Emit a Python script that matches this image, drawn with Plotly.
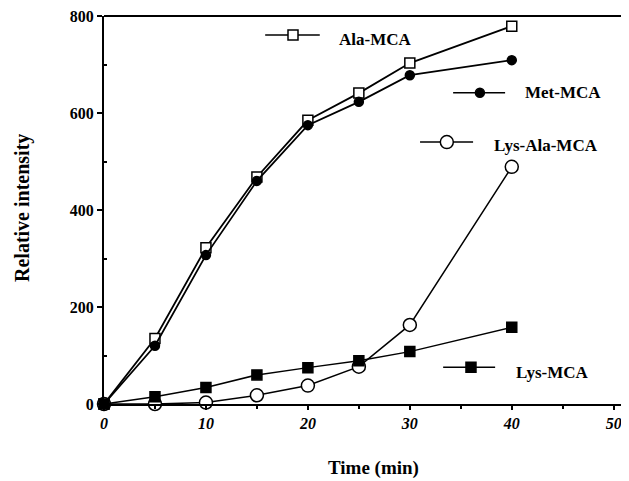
import plotly.graph_objects as go

time = [0, 5, 10, 15, 20, 25, 30, 40]
ala_mca = [0, 135, 322, 468, 585, 641, 703, 779]
met_mca = [0, 120, 307, 460, 575, 623, 678, 709]
lys_ala_mca = [0, 0, 3, 18, 38, 77, 163, 489]
lys_mca = [0, 15, 34, 60, 75, 89, 108, 158]
x_ticks = [0, 10, 20, 30, 40, 50]
y_ticks = [0, 200, 400, 600, 800]

# name, values, symbol, fill, size, line width
series = [
    ("Ala-MCA", ala_mca, "square", "white", 10, 1.8),
    ("Met-MCA", met_mca, "circle", "black", 9, 1.8),
    ("Lys-Ala-MCA", lys_ala_mca, "circle", "white", 13, 1.5),
    ("Lys-MCA", lys_mca, "square", "black", 10, 1.5),
]

# inline legend glyph positions (fractions of plot area)
legend_pos = {
    "Ala-MCA": (0.307, 0.411, 0.36, 0.951, 0.444, 0.940),
    "Met-MCA": (0.665, 0.764, 0.716, 0.802, 0.798, 0.802),
    "Lys-Ala-MCA": (0.602, 0.703, 0.653, 0.675, 0.739, 0.665),
    "Lys-MCA": (0.646, 0.745, 0.699, 0.095, 0.781, 0.082),
}

fig = go.Figure()
font_family = "Liberation Serif"

for name, vals, sym, fill, size, lw in series:
    fig.add_trace(go.Scatter(
        x=time, y=vals, mode="lines+markers", name=name,
        line=dict(color="black", width=lw),
        marker=dict(symbol=sym, size=size, color=fill,
                    line=dict(color="black", width=1.5)),
        cliponaxis=False, showlegend=False,
    ))
    x0, x1, xm, yl, xt, yt = legend_pos[name]
    fig.add_trace(go.Scatter(
        x=[x0, x1], y=[yl, yl], mode="lines", xaxis="x2", yaxis="y2",
        line=dict(color="black", width=1.5), showlegend=False, hoverinfo="skip",
    ))
    fig.add_trace(go.Scatter(
        x=[xm], y=[yl], mode="markers", xaxis="x2", yaxis="y2",
        marker=dict(symbol=sym, size=size, color=fill,
                    line=dict(color="black", width=1.5)),
        showlegend=False, hoverinfo="skip",
    ))
    fig.add_annotation(x=xt, y=yt, xref="x2", yref="y2", text=f"<b>{name}</b>",
                       showarrow=False, xanchor="left", yanchor="middle",
                       font=dict(family=font_family, size=17, color="black"))

# page body has an 8px default margin, so the figure is sized to the visible area
fig.update_layout(
    width=621, height=473,
    margin=dict(l=96, r=0, t=8, b=77, autoexpand=False),
    paper_bgcolor="white", plot_bgcolor="white",
    font=dict(family=font_family, color="black"),
    xaxis=dict(range=[0, 51.5], tickvals=x_ticks, automargin=False,
               ticklabeloverflow="allow",
               ticktext=[f"<b><i>{v}</i></b>" for v in x_ticks],
               ticks="outside", ticklen=4, tickwidth=1.5, tickcolor="black",
               minor=dict(tickvals=[5, 15, 25, 35, 45], ticks="outside", ticklen=3, tickcolor="black"),
               showline=True, linecolor="black", linewidth=2, mirror=False,
               showgrid=False, zeroline=False,
               tickfont=dict(size=16, family=font_family)),
    yaxis=dict(range=[0, 800], tickvals=y_ticks, automargin=False,
               ticklabeloverflow="allow",
               ticktext=[f"<b>{v}</b>" for v in y_ticks],
               ticks="outside", ticklen=5, tickwidth=1.5, tickcolor="black",
               minor=dict(tickvals=[100, 300, 500, 700], ticks="inside", ticklen=3, tickcolor="black"),
               showline=True, linecolor="black", linewidth=2,
               showgrid=False, zeroline=False,
               tickfont=dict(size=16, family=font_family)),
    xaxis2=dict(range=[0, 1], overlaying="x", visible=False, fixedrange=True),
    yaxis2=dict(range=[0, 1], overlaying="y", visible=False, fixedrange=True),
    shapes=[dict(type="line", xref="paper", yref="paper", x0=0, x1=1, y0=1, y1=1,
                 line=dict(color="black", width=2))],
)

fig.add_annotation(x=0.5, y=0, xref="paper", yref="paper", yshift=-64,
                   xshift=(373 - (104 + 629) / 2), xanchor="center", yanchor="middle",
                   text="<b>Time (min)</b>", showarrow=False, borderpad=0,
                   font=dict(family=font_family, size=19, color="black"))
fig.add_annotation(x=0, y=(404 - 208) / 388, xref="paper", yref="paper",
                   xshift=-82, xanchor="center", yanchor="middle",
                   text="<b>Relative intensity</b>", textangle=-90,
                   showarrow=False, font=dict(family=font_family, size=20, color="black"))

fig.write_html("out.html")
